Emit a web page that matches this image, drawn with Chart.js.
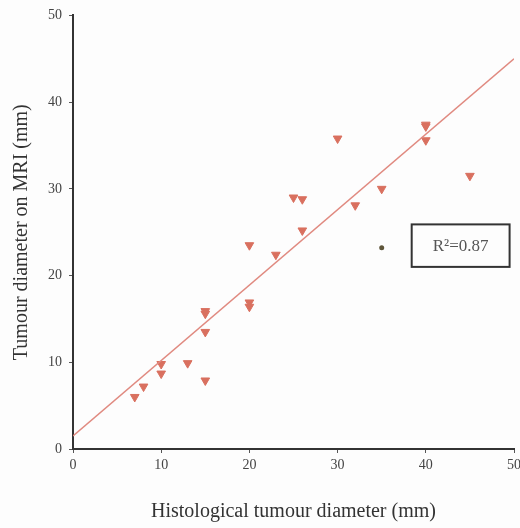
<!DOCTYPE html>
<html>
<head>
<meta charset="utf-8">
<script src="https://cdn.jsdelivr.net/npm/chart.js@4/dist/chart.umd.min.js"></script>
<style>
  html, body { margin:0; padding:0; background:#fdfdfd; }
  #wrap { width:520px; height:528px; }
</style>
</head>
<body>
<div id="wrap"><canvas id="c" width="520" height="528"></canvas></div>
<script>
// histological diameter (mm) vs MRI diameter (mm)
const histo = [7, 8, 10, 10, 13, 15, 15, 15, 15, 20, 20, 20, 23, 25, 26, 26, 30, 32, 35, 40, 40, 40, 45];
const mri   = [6, 7.2, 9.8, 8.7, 9.9, 15.9, 15.6, 13.5, 7.9, 23.5, 16.9, 16.4, 22.4, 29, 28.8, 25.2, 35.8, 28.1, 30, 37.4, 37.2, 35.6, 31.5];
// odd dark point
const oddX = [35];
const oddY = [23.2];
// regression line end points
const fitX = [0, 50];
const fitY = [1.5, 45];
const xTicks = [0, 10, 20, 30, 40, 50];
const yTicks = [0, 10, 20, 30, 40, 50];
const r2Label = 'R²=0.87';
// box for the R² label, in data units
const boxX = [38.4, 49.5];
const boxY = [25.9, 21.0];

const serif = '"Liberation Serif", "DejaVu Serif", serif';

const r2Box = {
  id: 'r2Box',
  afterDatasetsDraw(chart){
    const {ctx, scales:{x, y}} = chart;
    const l = x.getPixelForValue(boxX[0]), r = x.getPixelForValue(boxX[1]);
    const t = y.getPixelForValue(boxY[0]), b = y.getPixelForValue(boxY[1]);
    ctx.save();
    ctx.strokeStyle = '#333';
    ctx.lineWidth = 2;
    ctx.strokeRect(l, t, r - l, b - t);
    ctx.fillStyle = '#555';
    ctx.font = '17px ' + serif;
    ctx.textAlign = 'center';
    ctx.textBaseline = 'middle';
    ctx.fillText(r2Label, (l + r) / 2, (t + b) / 2 + 1);
    ctx.restore();
  }
};

new Chart(document.getElementById('c'), {
  type: 'scatter',
  data: {
    datasets: [
      {
        type: 'line',
        data: fitX.map((v, i) => ({x: v, y: fitY[i]})),
        borderColor: '#e08a80',
        borderWidth: 1.6,
        pointRadius: 0,
        fill: false,
      },
      {
        data: histo.map((v, i) => ({x: v, y: mri[i]})),
        pointStyle: 'triangle',
        rotation: 180,
        radius: 5,
        backgroundColor: '#d9705f',
        borderColor: '#d9705f',
        borderWidth: 1,
      },
      {
        data: oddX.map((v, i) => ({x: v, y: oddY[i]})),
        pointStyle: 'circle',
        radius: 2.5,
        backgroundColor: '#5e553a',
        borderColor: '#5e553a',
        borderWidth: 0,
      }
    ]
  },
  options: {
    responsive: false,
    animation: false,
    layout: { padding: { left: 0, right: 6, top: 13, bottom: 0 } },
    plugins: { legend: { display: false }, tooltip: { enabled: false } },
    scales: {
      x: {
        type: 'linear', min: 0, max: 50,
        afterBuildTicks: s => { s.ticks = xTicks.map(v => ({value: v})); },
        afterFit: s => { s.height = 79; s.paddingRight = 0; },
        grid: { drawOnChartArea: false, drawTicks: true, tickLength: 4, color: '#555' },
        border: { color: '#333', width: 2 },
        ticks: { color: '#444', font: { family: serif, size: 14 }, padding: 4, maxRotation: 0 },
        title: { display: true, text: 'Histological tumour diameter (mm)', color: '#333',
                 font: { family: serif, size: 20 }, padding: { top: 0, bottom: 4 } }
      },
      y: {
        type: 'linear', min: 0, max: 50,
        afterBuildTicks: s => { s.ticks = yTicks.map(v => ({value: v})); },
        afterFit: s => { s.width = 73; },
        grid: { drawOnChartArea: false, drawTicks: true, tickLength: 4, color: '#555' },
        border: { color: '#333', width: 2 },
        ticks: { color: '#444', font: { family: serif, size: 14 }, padding: 7 },
        title: { display: true, text: 'Tumour diameter on MRI (mm)', color: '#333',
                 font: { family: serif, size: 20 }, padding: { top: 10, bottom: 0 } }
      }
    }
  },
  plugins: [r2Box]
});
</script>
</body>
</html>
